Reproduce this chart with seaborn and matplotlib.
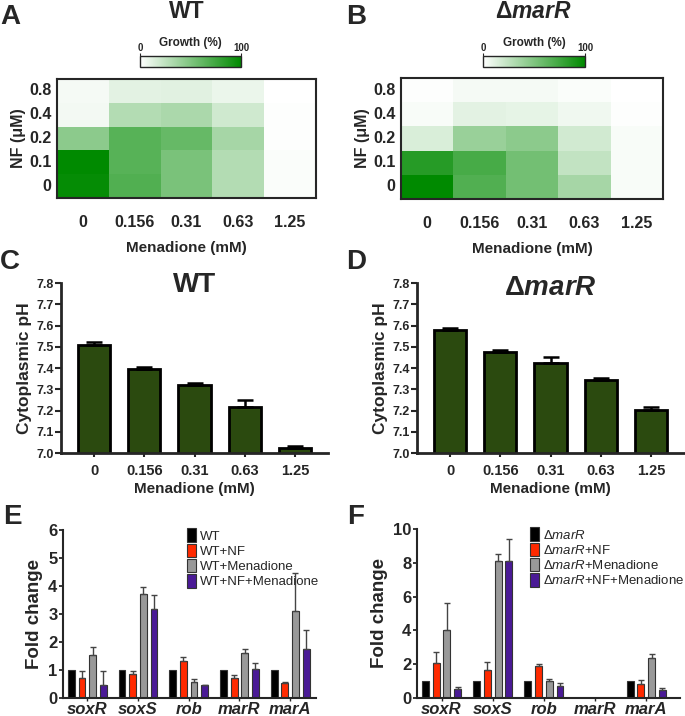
import numpy as np
import pandas as pd
import matplotlib
matplotlib.use('Agg')
import matplotlib.pyplot as plt
import seaborn as sns
from matplotlib.colors import LinearSegmentedColormap

sns.set_style('ticks')
plt.rcParams['font.family'] = ['Liberation Sans', 'DejaVu Sans']
plt.rcParams['font.weight'] = 'bold'
plt.rcParams['axes.labelweight'] = 'bold'
plt.rcParams['mathtext.fontset'] = 'custom'
plt.rcParams['mathtext.rm'] = 'Liberation Sans'
plt.rcParams['mathtext.it'] = 'Liberation Sans:style=italic:weight=normal'
plt.rcParams['mathtext.bf'] = 'Liberation Sans:weight=bold'
plt.rcParams['mathtext.bfit'] = 'Liberation Sans:style=italic:weight=bold'

# ---- data ----
menadione = ['0', '0.156', '0.31', '0.63', '1.25']
nf = ['0.8', '0.4', '0.2', '0.1', '0']

wt_growth = [[4, 11, 12, 8, 0],
             [5, 30, 33, 19, 1],
             [45, 66, 60, 35, 1],
             [100, 66, 52, 30, 2],
             [98, 68, 52, 30, 2]]
mar_growth = [[1, 4, 4, 2, 0],
              [3, 11, 10, 6, 1],
              [15, 40, 45, 18, 3],
              [85, 72, 55, 24, 3],
              [100, 68, 55, 35, 3]]

wt_ph = [7.51, 7.395, 7.32, 7.215, 7.025]
wt_ph_err = [0.012, 0.012, 0.01, 0.035, 0.01]
mar_ph = [7.578, 7.475, 7.422, 7.345, 7.203]
mar_ph_err = [0.012, 0.012, 0.028, 0.01, 0.012]

genes = ['soxR', 'soxS', 'rob', 'marR', 'marA']
wt_conds = ['WT', 'WT+NF', 'WT+Menadione', 'WT+NF+Menadione']
mar_conds = [r'Δ$\mathit{marR}$', r'Δ$\mathit{marR}$+NF',
             r'Δ$\mathit{marR}$+Menadione', r'Δ$\mathit{marR}$+NF+Menadione']

# fold change per condition, one value per gene
wt_fc = [[1, 1, 1, 1, 1],
         [0.72, 0.85, 1.32, 0.72, 0.55],
         [1.55, 3.72, 0.58, 1.62, 3.12],
         [0.47, 3.18, 0.45, 1.05, 1.75]]
wt_fc_err = [[0, 0, 0, 0, 0],
             [0.25, 0.13, 0.15, 0.1, 0.02],
             [0.27, 0.25, 0.1, 0.12, 1.35],
             [0.5, 0.5, 0.03, 0.2, 0.68]]
mar_fc = [[1, 1, 1, 0, 1],
          [2.05, 1.65, 1.9, 0, 0.85],
          [4.0, 8.1, 1.0, 0, 2.38],
          [0.52, 8.12, 0.72, 0, 0.48]]
mar_fc_err = [[0, 0, 0, 0, 0],
              [0.65, 0.5, 0.1, 0, 0.2],
              [1.6, 0.45, 0.15, 0, 0.25],
              [0.15, 1.3, 0.18, 0, 0.12]]

bar_colors = ['#000000', '#ff2a00', '#999999', '#4a1a96']
ph_color = '#2b4a0f'
cmap = LinearSegmentedColormap.from_list('growth', ['#ffffff', '#008a00'])

fig = plt.figure(figsize=(6.85, 7.16), dpi=100)
W, H = 685, 716


def box(x0, y0, x1, y1):
    # pixel box -> figure fraction
    return [x0 / W, 1 - y1 / H, (x1 - x0) / W, (y1 - y0) / H]


def heat(axbox, cbox, data, title, letter, lx, tx):
    ax = fig.add_axes(box(*axbox))
    cax = fig.add_axes(box(*cbox))
    df = pd.DataFrame(data, index=nf, columns=menadione)
    sns.heatmap(df, cmap=cmap, vmin=0, vmax=100, ax=ax, cbar_ax=cax,
                cbar_kws={'orientation': 'horizontal', 'ticks': [0, 100]})
    for s in ax.spines.values():
        s.set_visible(True)
        s.set_linewidth(1.5)
    ax.tick_params(length=0, labelsize=11.5, pad=4)
    ax.tick_params(axis='x', pad=12)
    ax.set_yticklabels(nf, rotation=0, fontweight='bold')
    ax.set_xticklabels(menadione, rotation=0, fontweight='bold')
    ax.set_xlabel('Menadione (mM)', fontsize=11, labelpad=8)
    ax.set_ylabel('NF (μM)', fontsize=11.5, labelpad=2)
    cax.xaxis.set_ticks_position('top')
    cax.tick_params(length=2, labelsize=7, pad=0)
    for t in cax.get_xticklabels():
        t.set_fontweight('bold')
    cbar = ax.collections[0].colorbar
    cbar.outline.set_linewidth(1)
    cbar.outline.set_visible(True)
    cax.text(0.5, 2.2, 'Growth (%)', transform=cax.transAxes, ha='center',
             va='center', fontsize=8.5, fontweight='bold')
    fig.text(lx / W, 1 - 17 / H, letter, fontsize=20, fontweight='bold', va='center')
    fig.text(tx / W, 1 - 11 / H, title, fontsize=16.5, fontweight='bold',
             ha='center', va='center')


heat((57, 79, 316, 198), (140, 56, 241, 67), wt_growth, 'WT', 'A', 0, 187)
heat((401, 78, 663, 199), (483, 56, 585, 67), mar_growth,
     r'Δ$\mathbfit{marR}$', 'B', 346, 533)


def ph_panel(axbox, vals, errs, title, letter, lx, ty):
    ax = fig.add_axes(box(*axbox))
    sns.barplot(x=menadione, y=vals, color=ph_color, width=0.64, ax=ax,
                edgecolor='black', linewidth=2, errorbar=None, saturation=1)
    xs = np.arange(len(vals))
    ax.errorbar(xs, vals, yerr=[np.zeros(len(errs)), errs], fmt='none',
                ecolor='black', elinewidth=1.8, capsize=6, capthick=1.8)
    ax.set_ylim(7.0, 7.8)
    ax.set_xlim(-0.66, 4.66)
    ax.set_yticks(np.arange(7.0, 7.81, 0.1))
    ax.set_yticklabels([f'{v:.1f}' for v in np.arange(7.0, 7.81, 0.1)])
    sns.despine(ax=ax)
    for s in ['left', 'bottom']:
        ax.spines[s].set_linewidth(2)
    ax.tick_params(axis='y', labelsize=9, width=1.5, length=4, pad=1)
    ax.tick_params(axis='x', labelsize=10.5, width=1.5, length=3, pad=5)
    for t in ax.get_xticklabels() + ax.get_yticklabels():
        t.set_fontweight('bold')
    ax.set_ylabel('Cytoplasmic pH', fontsize=12.5, labelpad=3)
    ax.set_xlabel('Menadione (mM)', fontsize=11, labelpad=3)
    ax.text(0.5, ty, title, transform=ax.transAxes, ha='center', va='center',
            fontsize=20, fontweight='bold')
    fig.text(lx / W, 1 - 262 / H, letter, fontsize=20, fontweight='bold', va='center')


ph_panel((61, 283, 328, 453), wt_ph, wt_ph_err, 'WT', 'C', 0, 0.99)
ph_panel((417, 283, 684, 453), mar_ph, mar_ph_err, r'Δ$\mathbfit{marR}$', 'D', 346, 0.97)


def fc_panel(axbox, conds, vals, errs, ymax, ystep, xlim, letter, lx, legx):
    ax = fig.add_axes(box(*axbox))
    rows = []
    for c, vs in zip(conds, vals):
        for g, v in zip(genes, vs):
            rows.append({'gene': g, 'cond': c, 'fc': v})
    df = pd.DataFrame(rows)
    sns.barplot(data=df, x='gene', y='fc', hue='cond', hue_order=conds,
                palette=bar_colors, width=0.84, gap=0.36, errorbar=None,
                edgecolor='#333333', linewidth=0.8, saturation=1, ax=ax)
    for cont, vs, es in zip(ax.containers, vals, errs):
        xs = [p.get_x() + p.get_width() / 2 for p in cont.patches]
        for x, v, e in zip(xs, vs, es):
            if e > 0:
                ax.errorbar(x, v, yerr=[[0], [e]], fmt='none', ecolor='#444444',
                            elinewidth=1, capsize=2, capthick=1)
    ax.set_ylim(0, ymax)
    ax.set_xlim(*xlim)
    ax.set_yticks(np.arange(0, ymax + 0.1, ystep))
    sns.despine(ax=ax)
    for s in ['left', 'bottom']:
        ax.spines[s].set_linewidth(1.5)
    ax.tick_params(axis='y', labelsize=12, width=1.3, length=3, pad=1)
    ax.tick_params(axis='x', labelsize=12, width=1, length=2, pad=1)
    for t in ax.get_yticklabels():
        t.set_fontweight('bold')
    for t in ax.get_xticklabels():
        t.set_fontweight('bold')
        t.set_fontstyle('italic')
    ax.set_xlabel('')
    ax.set_ylabel('Fold change', fontsize=13.5, labelpad=4)
    handles, labels = ax.get_legend_handles_labels()
    ax.legend(handles, labels, loc='upper left', bbox_to_anchor=(legx, 1.01),
              frameon=False, prop={'size': 9.5, 'weight': 'normal'},
              handlelength=0.7, handleheight=1.2, handletextpad=0.3,
              labelspacing=0.08, borderpad=0, borderaxespad=0)
    fig.text(lx / W, 1 - 517 / H, letter, fontsize=20, fontweight='bold', va='center')


fc_panel((63, 530, 316, 698), wt_conds, wt_fc, wt_fc_err, 6, 1,
         (-0.48, 4.51), 'E', 3, 0.49)
fc_panel((417, 529, 680, 698), mar_conds, mar_fc, mar_fc_err, 10, 2,
         (-0.48, 4.66), 'F', 347, 0.43)

fig.savefig('out.png', dpi=100)
